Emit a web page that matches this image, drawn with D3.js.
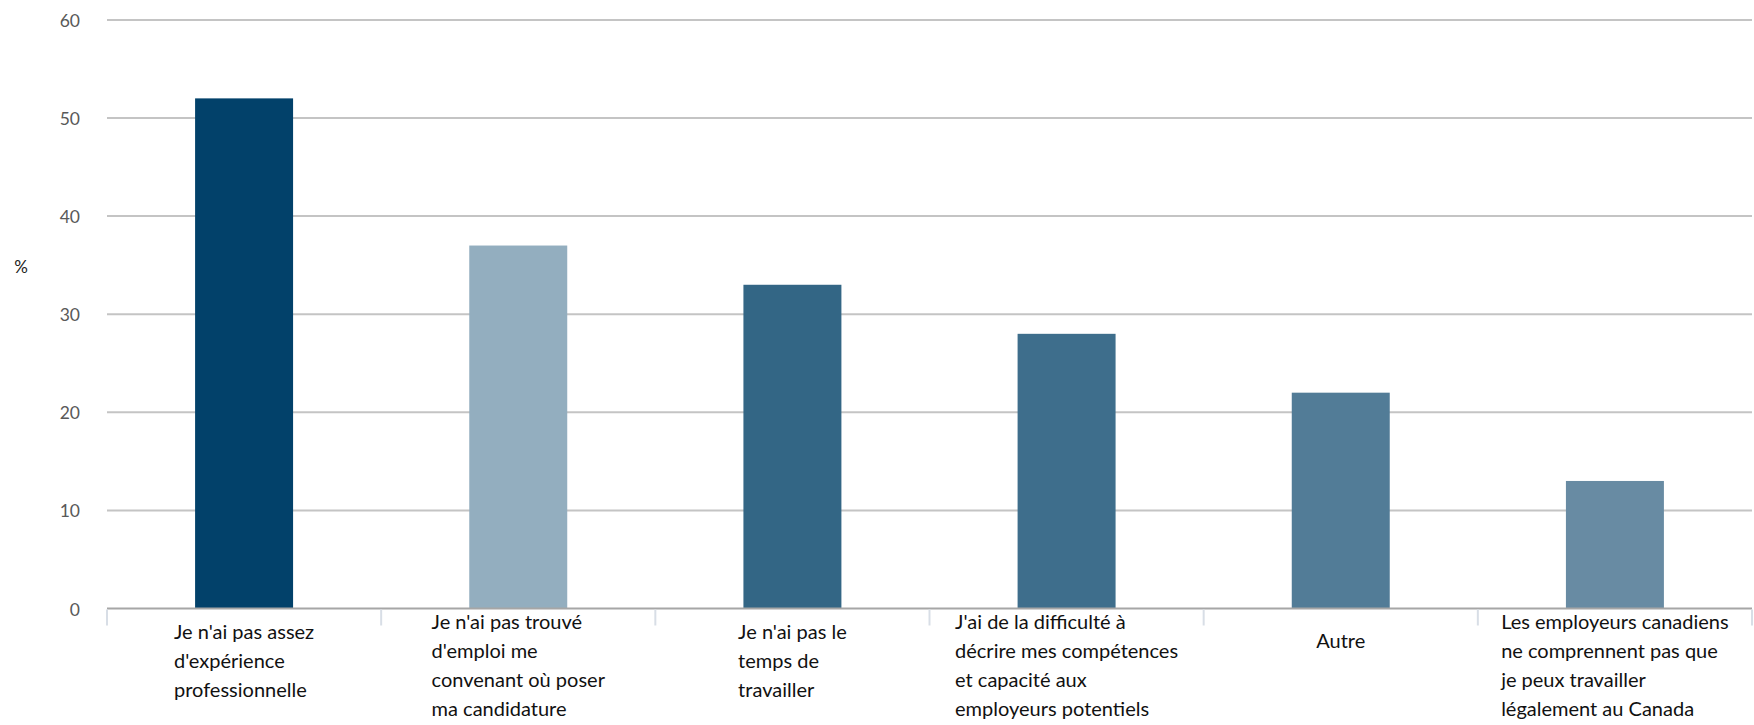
<!DOCTYPE html>
<html>
<head>
<meta charset="utf-8">
<script src="https://cdn.jsdelivr.net/npm/d3@7"></script>
<style>
  html, body { margin: 0; padding: 0; background: #ffffff; }
  svg { display: block; }
</style>
</head>
<body>
<svg id="chart" width="1754" height="725"></svg>
<script>
// ---- data ----
const categories = [
  "Je n'ai pas assez d'expérience professionnelle",
  "Je n'ai pas trouvé d'emploi me convenant où poser ma candidature",
  "Je n'ai pas le temps de travailler",
  "J'ai de la difficulté à décrire mes compétences et capacité aux employeurs potentiels",
  "Autre",
  "Les employeurs canadiens ne comprennent pas que je peux travailler légalement au Canada"
];
const labelLines = [
  ["Je n'ai pas assez", "d'expérience", "professionnelle"],
  ["Je n'ai pas trouvé", "d'emploi me", "convenant où poser", "ma candidature"],
  ["Je n'ai pas le", "temps de", "travailler"],
  ["J'ai de la difficulté à", "décrire mes compétences", "et capacité aux", "employeurs potentiels"],
  ["Autre"],
  ["Les employeurs canadiens", "ne comprennent pas que", "je peux travailler", "légalement au Canada"]
];
const values = [52, 37, 33, 28, 22, 13];
const yTicks = [0, 10, 20, 30, 40, 50, 60];
const yAxisTitle = "%";

// ---- styles ----
const barColors = ["#02416a", "#93aebf", "#336685", "#3e6e8c", "#527c97", "#688ba3"];

// ---- layout ----
const plotLeft = 107, plotRight = 1752, plotTop = 19.9, plotBottom = 608.5;
const lineH = 29.3;
const firstLineOffset = { 1: 39, 2: 32, 3: 30, 4: 20 };

const svg = d3.select("#chart");

const x = d3.scaleBand().domain(categories).range([plotLeft, plotRight])
  .paddingInner(0.6426).paddingOuter(0.3213);
const y = d3.scaleLinear().domain([0, 60]).range([plotBottom, plotTop]);

// gridlines
svg.append("g").selectAll("line")
  .data(yTicks.filter(t => t > 0))
  .join("line")
  .attr("x1", plotLeft).attr("x2", plotRight)
  .attr("y1", d => y(d)).attr("y2", d => y(d))
  .attr("stroke", "#c4c4c4").attr("stroke-width", 2);

// y tick labels
svg.append("g").selectAll("text")
  .data(yTicks)
  .join("text")
  .attr("x", 80).attr("y", d => y(d) + 7)
  .attr("text-anchor", "end")
  .attr("font-family", "Lato, 'Open Sans', sans-serif")
  .attr("font-size", 17.5)
  .attr("fill", "#595959")
  .text(d => d);

// y axis title
svg.append("text")
  .attr("x", 21).attr("y", 273)
  .attr("text-anchor", "middle")
  .attr("font-family", "Lato, 'Open Sans', sans-serif")
  .attr("font-size", 17)
  .attr("fill", "#222")
  .text(yAxisTitle);

// bars
svg.append("g").selectAll("rect")
  .data(values)
  .join("rect")
  .attr("x", (d, i) => x(categories[i]))
  .attr("width", x.bandwidth())
  .attr("y", d => y(d))
  .attr("height", d => y(0) - y(d))
  .attr("fill", (d, i) => barColors[i]);

// x axis line
svg.append("line")
  .attr("x1", plotLeft).attr("x2", plotRight)
  .attr("y1", y(0)).attr("y2", y(0))
  .attr("stroke", "#a6a6a6").attr("stroke-width", 2);

// x axis tick marks at band boundaries
const step = x.step();
const boundaries = d3.range(categories.length + 1).map(i => plotLeft + i * step);
svg.append("g").selectAll("line")
  .data(boundaries)
  .join("line")
  .attr("x1", d => d).attr("x2", d => d)
  .attr("y1", y(0) + 1).attr("y2", y(0) + 17)
  .attr("stroke", "#d8dee6").attr("stroke-width", 2);

// category labels: left-aligned block, centred on the band
const labG = svg.append("g");
categories.forEach((c, i) => {
  const lines = labelLines[i];
  const cx = x(c) + x.bandwidth() / 2;
  const t = labG.append("text")
    .attr("font-family", "Lato, 'Open Sans', sans-serif")
    .attr("font-size", 20)
    .attr("fill", "#111");
  const y0 = y(0) + firstLineOffset[lines.length];
  const spans = lines.map((ln, k) => t.append("tspan")
    .attr("y", y0 + k * lineH).attr("x", 0).text(ln));
  const maxW = d3.max(spans, s => s.node().getComputedTextLength());
  spans.forEach(s => s.attr("x", cx - maxW / 2));
});
</script>
</body>
</html>
